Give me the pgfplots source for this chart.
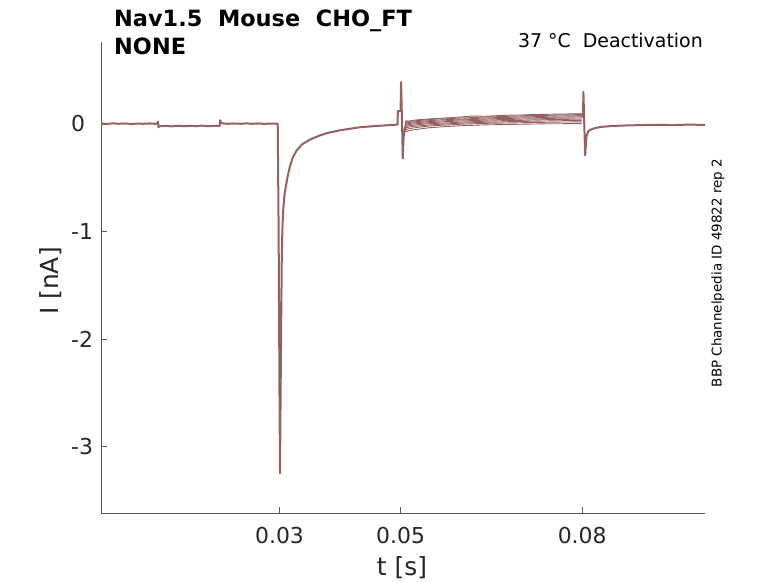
\documentclass[border=0pt]{standalone}
\usepackage{fontspec}
\setmainfont{DejaVu Sans}
\usepackage{pgfplots}
\pgfplotsset{compat=1.18}
\usepackage{pgfplotstable}
\definecolor{trace}{RGB}{150,96,96}
\definecolor{axgray}{RGB}{38,38,38}

\pgfplotstableread{
t y
0.0005 0.004
0.0015 0.001
0.0025 0.006
0.0035 0.002
0.0045 0.005
0.0055 0.000
0.0065 0.004
0.0075 0.002
0.0085 0.005
0.0095 0.002
0.0098 0.003
0.0099 0.022
0.0100 -0.030
0.0102 -0.020
0.0112 -0.017
0.0122 -0.022
0.0132 -0.016
0.0142 -0.021
0.0152 -0.017
0.0162 -0.020
0.0172 -0.015
0.0182 -0.020
0.0192 -0.017
0.0200 -0.018
0.0201 -0.020
0.0202 0.035
0.0203 0.012
0.0206 0.006
0.0215 0.002
0.0225 0.005
0.0235 0.002
0.0245 0.006
0.0255 0.002
0.0265 0.005
0.0275 0.001
0.0285 0.004
0.0297 0.003
0.02985 -1.000
0.03000 -2.600
0.03008 -3.250
0.03018 -2.500
0.03028 -1.800
0.03036 -1.300
0.03046 -1.000
0.03062 -0.790
0.03082 -0.660
0.03107 -0.570
0.03140 -0.470
0.03174 -0.390
0.03220 -0.310
0.03284 -0.245
0.03370 -0.190
0.03504 -0.145
0.03650 -0.110
0.03780 -0.085
0.04000 -0.058
0.04330 -0.030
0.04600 -0.018
0.04880 -0.008
0.04950 -0.005
0.04955 0.120
0.05000 0.120
0.05008 0.390
0.05025 0.000
0.05036 -0.320
0.05050 -0.120
0.05070 -0.040
}\common

\pgfplotstableread{
t s1 s2 s3 s4 s5 s6 s7 s8 s9
0.0507 -0.040 -0.040 -0.040 -0.040 -0.040 -0.040 -0.040 -0.040 -0.040
0.0509 0.030 0.020 0.008 0.000 -0.012 -0.022 -0.036 -0.052 -0.072
0.0513 0.026 0.024 0.012 0.004 -0.006 -0.018 -0.030 -0.045 -0.064
0.0520 0.034 0.028 0.018 0.010 0.000 -0.012 -0.022 -0.038 -0.055
0.0530 0.040 0.032 0.024 0.014 0.004 -0.006 -0.018 -0.030 -0.048
0.0545 0.046 0.040 0.030 0.022 0.012 0.002 -0.010 -0.020 -0.036
0.0560 0.052 0.046 0.036 0.026 0.016 0.006 -0.004 -0.014 -0.030
0.0580 0.058 0.050 0.042 0.032 0.024 0.012 0.002 -0.008 -0.022
0.0600 0.066 0.056 0.046 0.038 0.028 0.018 0.008 -0.002 -0.016
0.0620 0.074 0.060 0.050 0.042 0.032 0.022 0.012 0.002 -0.012
0.0640 0.072 0.066 0.056 0.046 0.036 0.026 0.016 0.006 -0.008
0.0660 0.078 0.068 0.060 0.050 0.040 0.030 0.018 0.008 -0.006
0.0680 0.082 0.072 0.062 0.052 0.042 0.032 0.022 0.010 -0.004
0.0700 0.084 0.076 0.066 0.056 0.046 0.034 0.024 0.012 -0.002
0.0720 0.088 0.080 0.068 0.058 0.048 0.038 0.026 0.014 0.000
0.0740 0.090 0.080 0.072 0.062 0.050 0.040 0.028 0.016 0.002
0.0760 0.092 0.084 0.074 0.064 0.054 0.042 0.030 0.018 0.002
0.0780 0.094 0.086 0.076 0.066 0.055 0.044 0.032 0.019 0.004
0.0799 0.096 0.088 0.078 0.068 0.056 0.045 0.032 0.020 0.004
}\sweeps

\pgfplotstableread{
t y
0.08000 0.060
0.08015 0.100
0.08021 0.300
0.08035 0.000
0.08050 -0.290
0.08070 -0.120
0.08100 -0.070
0.08130 -0.055
0.08200 -0.040
0.08300 -0.028
0.08500 -0.018
0.08750 -0.013
0.09000 -0.010
0.09250 -0.007
0.09500 -0.010
0.09750 -0.006
0.10030 -0.008
}\post

\begin{document}
\begin{tikzpicture}
\path[use as bounding box] (-101bp,-70bp) rectangle (677bp,513bp);
\begin{axis}[
  at={(0,0)}, anchor=south west,
  scale only axis, width=604bp, height=471bp,
  xmin=0.0005, xmax=0.1003, ymin=-3.619, ymax=0.763,
  axis x line*=bottom, axis y line*=left,
  axis line style={-, draw=black!65, line width=0.6bp},
  tick align=inside, major tick length=6bp,
  tick style={draw=black!65, line width=0.6bp},
  xtick={0.03,0.05,0.08}, xticklabels={0.03,0.05,0.08},
  ytick={-3,-2,-1,0}, yticklabels={-3,-2,-1,0},
  xticklabel style={font=\fontsize{22}{26}\selectfont, text=axgray, inner sep=0pt, anchor=north, yshift=-14bp},
  yticklabel style={font=\fontsize{22}{26}\selectfont, text=axgray, inner sep=0pt, anchor=west, xshift=-30bp},
]
\addplot[trace, line width=2bp, line join=round] table[x=t,y=y] {\common};
\addplot[trace, line width=0.9bp] table[x=t,y=s1] {\sweeps};
\addplot[trace, line width=0.9bp] table[x=t,y=s2] {\sweeps};
\addplot[trace, line width=0.9bp] table[x=t,y=s3] {\sweeps};
\addplot[trace, line width=0.9bp] table[x=t,y=s4] {\sweeps};
\addplot[trace, line width=0.9bp] table[x=t,y=s5] {\sweeps};
\addplot[trace, line width=0.9bp] table[x=t,y=s6] {\sweeps};
\addplot[trace, line width=0.9bp] table[x=t,y=s7] {\sweeps};
\addplot[trace, line width=0.9bp] table[x=t,y=s8] {\sweeps};
\addplot[trace, line width=0.9bp] table[x=t,y=s9] {\sweeps};
\addplot[trace, line width=2bp, line join=round] table[x=t,y=y] {\post};
\end{axis}
\node[anchor=base west, inner sep=0pt, font=\bfseries\fontsize{22.5}{26}\selectfont] at (13bp,486bp) {Nav1.5\ \ Mouse\ \ CHO\_FT};
\node[anchor=base west, inner sep=0pt, font=\bfseries\fontsize{22.5}{26}\selectfont] at (13bp,458bp) {NONE};
\node[anchor=base east, inner sep=0pt, font=\fontsize{19}{23}\selectfont] at (602bp,465.7bp) {37 °C\ \ Deactivation};
\node[anchor=base, inner sep=0pt, rotate=90, font=\fontsize{13.5}{16}\selectfont] at (620.7bp,240bp) {BBP Channelpedia ID 49822 rep 2};
\node[anchor=base, inner sep=0pt, rotate=90, text=axgray, font=\fontsize{25}{29}\selectfont] at (-42.7bp,232bp) {I [nA]};
\node[anchor=base, inner sep=0pt, text=axgray, font=\fontsize{25}{29}\selectfont] at (301bp,-62bp) {t [s]};
\end{tikzpicture}
\end{document}
